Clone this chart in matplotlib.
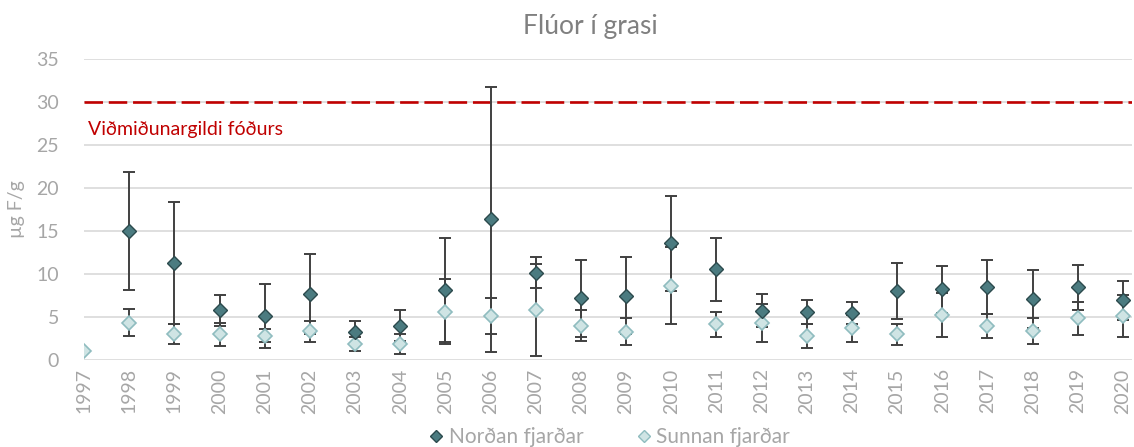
import numpy as np
import matplotlib
matplotlib.use('Agg')
import matplotlib.pyplot as plt
from matplotlib.lines import Line2D

plt.rcParams['font.family'] = ['Lato', 'DejaVu Sans']

# Gögn: meðaltal og staðalfrávik
years = list(range(1997, 2021))

nordan_years = list(range(1998, 2021))
nordan_mean = [15.0, 11.3, 5.8, 5.15, 7.67, 3.3, 3.99, 8.14, 16.36, 10.15, 7.17, 7.48,
               13.57, 10.55, 5.73, 5.55, 5.43, 8.06, 8.22, 8.49, 7.09, 8.45, 6.94]
nordan_sd = [6.85, 7.1, 1.8, 3.72, 4.7, 1.27, 1.79, 6.1, 15.4, 1.8, 4.46, 4.44,
             5.52, 3.68, 1.92, 1.4, 1.28, 3.24, 2.75, 3.15, 3.36, 2.6, 2.28]

sunnan_years = list(range(1997, 2021))
sunnan_mean = [1.0, 4.34, 3.0, 3.0, 2.83, 3.34, 1.86, 1.86, 5.62, 5.12, 5.81, 3.99, 3.29,
               8.64, 4.15, 4.3, 2.79, 3.68, 2.99, 5.23, 3.92, 3.34, 4.85, 5.15]
sunnan_sd = [0.0, 1.6, 1.17, 1.33, 0.77, 1.25, 0.78, 1.2, 3.76, 2.05, 5.33, 1.79, 1.6,
             4.5, 1.47, 2.2, 1.34, 1.55, 1.25, 2.6, 1.4, 1.53, 1.95, 2.46]

threshold = 30
threshold_label = 'Viðmiðunargildi fóðurs'

grey = '#a6a6a6'
dark_fill = '#4b7b80'
dark_edge = '#2c4a4d'
light_fill = '#cfe4e4'
light_edge = '#8fbcbf'
err_col = '#404040'

fig = plt.figure(figsize=(11.34, 4.47), dpi=100)
ax = fig.add_axes([0.0741, 0.1946, 0.9241, 0.6734])

# villustrik fyrst, svo punktar ofan á
ax.errorbar(nordan_years, nordan_mean, yerr=nordan_sd, fmt='none', ecolor=err_col,
            elinewidth=1.4, capsize=4, capthick=1.4, zorder=2)
sy = [y for y, s in zip(sunnan_years, sunnan_sd) if s > 0]
sm = [m for m, s in zip(sunnan_mean, sunnan_sd) if s > 0]
ss = [s for s in sunnan_sd if s > 0]
ax.errorbar(sy, sm, yerr=ss, fmt='none', ecolor=err_col,
            elinewidth=1.4, capsize=4, capthick=1.4, zorder=2)

ax.plot(sunnan_years, sunnan_mean, linestyle='none', marker='D', markersize=7,
        markerfacecolor=light_fill, markeredgecolor=light_edge, markeredgewidth=1.2, zorder=3)
ax.plot(nordan_years, nordan_mean, linestyle='none', marker='D', markersize=7,
        markerfacecolor=dark_fill, markeredgecolor=dark_edge, markeredgewidth=1.0, zorder=4)

ax.axhline(threshold, color='#c00000', linewidth=1.9, dashes=(7, 2.2), zorder=1)
ax.text(1997.08, 26.8, threshold_label, color='#c00000', fontsize=14, va='center', ha='left')

ax.set_ylim(0, 35)
ax.set_xlim(1997, 2020.2)
ax.set_yticks(np.arange(0, 36, 5))
ax.set_xticks(years)
ax.set_xticklabels([str(y) for y in years], rotation=90)
ax.tick_params(axis='both', colors=grey, labelsize=14, length=0)
ax.tick_params(axis='x', pad=6)
ax.tick_params(axis='y', pad=18)
ax.grid(axis='y', color='#d9d9d9', linewidth=1.2, zorder=0)
ax.set_axisbelow(True)
for sp in ax.spines.values():
    sp.set_visible(False)

ax.set_ylabel('µg F/g', color=grey, fontsize=14, labelpad=8)

fig.text(0.521, 0.94, 'Flúor í grasi', ha='center', va='center', color='#808080', fontsize=19)

handles = [
    Line2D([], [], linestyle='none', marker='D', markersize=6, markerfacecolor=dark_fill,
           markeredgecolor=dark_edge, label='Norðan fjarðar'),
    Line2D([], [], linestyle='none', marker='D', markersize=6, markerfacecolor=light_fill,
           markeredgecolor=light_edge, label='Sunnan fjarðar'),
]
leg = fig.legend(handles=handles, loc='center', bbox_to_anchor=(0.536, 0.022), ncol=2,
                 frameon=False, fontsize=15, handletextpad=0.1, columnspacing=2.4,
                 handlelength=1.0)
for t in leg.get_texts():
    t.set_color(grey)

fig.savefig('out.png', dpi=100)
